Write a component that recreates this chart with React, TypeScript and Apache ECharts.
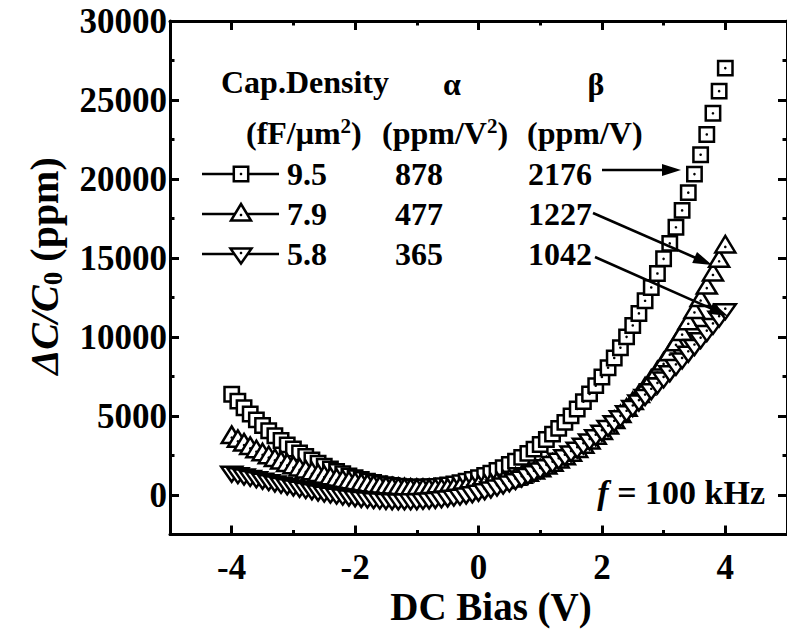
import React, { useEffect, useRef } from 'react';
import * as echarts from 'echarts';

// DC bias (V)
const biasV = [-4, -3.9, -3.8, -3.7, -3.6, -3.5, -3.4, -3.3, -3.2, -3.1, -3, -2.9, -2.8, -2.7, -2.6, -2.5, -2.4, -2.3, -2.2, -2.1, -2, -1.9, -1.8, -1.7, -1.6, -1.5, -1.4, -1.3, -1.2, -1.1, -1, -0.9, -0.8, -0.7, -0.6, -0.5, -0.4, -0.3, -0.2, -0.1, 0, 0.1, 0.2, 0.3, 0.4, 0.5, 0.6, 0.7, 0.8, 0.9, 1, 1.1, 1.2, 1.3, 1.4, 1.5, 1.6, 1.7, 1.8, 1.9, 2, 2.1, 2.2, 2.3, 2.4, 2.5, 2.6, 2.7, 2.8, 2.9, 3, 3.1, 3.2, 3.3, 3.4, 3.5, 3.6, 3.7, 3.8, 3.9, 4];

// ΔC/C0 (ppm), cap density 9.5 fF/um2 (squares)
const density95 = [6380, 5941, 5523, 5128, 4754, 4401, 4067, 3752, 3454, 3175, 2912, 2665, 2434, 2217, 2016, 1829, 1654, 1494, 1346, 1211, 1088, 977, 878, 790, 715, 651, 598, 556, 527, 507, 500, 504, 521, 548, 588, 641, 706, 783, 875, 980, 1100, 1234, 1383, 1549, 1730, 1929, 2146, 2380, 2633, 2906, 3200, 3515, 3853, 4214, 4598, 5009, 5445, 5908, 6400, 6921, 7472, 8055, 8672, 9322, 10008, 10731, 11492, 12293, 13134, 14019, 14948, 15923, 16944, 18014, 19135, 20309, 21536, 22818, 24159, 25559, 27020];

// cap density 7.9 (up triangles)
const density79 = [3639, 3396, 3164, 2947, 2741, 2546, 2362, 2189, 2026, 1872, 1727, 1590, 1463, 1343, 1231, 1125, 1027, 936, 851, 772, 700, 634, 574, 519, 470, 427, 389, 358, 331, 311, 296, 287, 285, 288, 298, 314, 337, 366, 403, 448, 500, 560, 629, 708, 795, 892, 1000, 1118, 1247, 1389, 1542, 1709, 1889, 2084, 2293, 2517, 2758, 3017, 3292, 3586, 3900, 4234, 4589, 4966, 5365, 5789, 6237, 6711, 7211, 7740, 8297, 8884, 9502, 10153, 10836, 11554, 12307, 13097, 13926, 14794, 15703];

// cap density 5.8 (down triangles)
const density58 = [1499, 1413, 1325, 1238, 1149, 1061, 973, 884, 798, 712, 628, 547, 467, 390, 316, 245, 178, 115, 56, 1, -48, -94, -134, -168, -197, -219, -236, -246, -249, -245, -235, -217, -192, -159, -118, -69, -12, 53, 127, 209, 300, 399, 509, 627, 754, 891, 1036, 1191, 1356, 1531, 1715, 1909, 2113, 2326, 2550, 2783, 3027, 3280, 3544, 3816, 4100, 4393, 4696, 5009, 5332, 5665, 6008, 6360, 6723, 7095, 7476, 7866, 8266, 8676, 9095, 9523, 9959, 10404, 10859, 11321, 11793];

const xMajorTicks = [-4, -2, 0, 2, 4];
const xMinorTicks = [-3, -1, 1, 3];
const yMajorTicks = [0, 5000, 10000, 15000, 20000, 25000, 30000];
const yMinorTicks = [2500, 7500, 12500, 17500, 22500, 27500];

const capDensity = ['9.5', '7.9', '5.8'];
const alphaVals = ['878', '477', '365'];
const betaVals = ['2176', '1227', '1042'];

const FONT = "'Liberation Serif', 'Times New Roman', serif";

type Pt = [number, number];

function squareShape(x: number, y: number) {
  return [
    { type: 'rect', shape: { x: x - 7.2, y: y - 7.2, width: 14.4, height: 14.4 }, style: { fill: '#fff', stroke: '#000', lineWidth: 2.5 } },
    { type: 'circle', shape: { cx: x, cy: y, r: 1.3 }, style: { fill: '#000' } },
  ];
}
function upTriShape(x: number, y: number) {
  return [
    { type: 'polygon', shape: { points: [[x, y - 11], [x + 10, y + 5.5], [x - 10, y + 5.5]] }, style: { fill: '#fff', stroke: '#000', lineWidth: 2.5, lineJoin: 'miter' } },
    { type: 'circle', shape: { cx: x, cy: y, r: 1.3 }, style: { fill: '#000' } },
  ];
}
function downTriShape(x: number, y: number) {
  return [
    { type: 'polygon', shape: { points: [[x - 10.5, y - 4.5], [x + 10.5, y - 4.5], [x, y + 10.5]] }, style: { fill: '#fff', stroke: '#000', lineWidth: 2.5, lineJoin: 'miter' } },
    { type: 'circle', shape: { cx: x, cy: y, r: 1.3 }, style: { fill: '#000' } },
  ];
}

function markerSeries(name: string, values: number[], shapeFn: (x: number, y: number) => any[]) {
  const data: Pt[] = biasV.map((v, i) => [v, values[i]]);
  return {
    type: 'custom',
    name,
    data,
    encode: { x: 0, y: 1 },
    clip: false,
    renderItem: (_params: any, api: any) => {
      const p = api.coord([api.value(0), api.value(1)]);
      return { type: 'group', children: shapeFn(p[0], p[1]) };
    },
  };
}

const axisBase = {
  type: 'value',
  splitLine: { show: false },
};

function xAx(position: 'top' | 'bottom', major: boolean) {
  return {
    ...axisBase,
    min: -5,
    max: 5,
    position,
    axisLine: { show: major, onZero: false, lineStyle: { color: '#000', width: 3 } },
    axisTick: {
      show: true,
      inside: true,
      length: major ? 9 : 4.5,
      customValues: major ? xMajorTicks : xMinorTicks,
      lineStyle: { color: '#000', width: 3 },
    },
    axisLabel: {
      show: major && position === 'bottom',
      customValues: xMajorTicks,
      formatter: (v: number) => String(v),
      color: '#000',
      fontFamily: FONT,
      fontWeight: 'bold',
      fontSize: 35,
      margin: 15,
    },
  };
}

function yAx(position: 'left' | 'right', major: boolean) {
  return {
    ...axisBase,
    min: -2500,
    max: 30000,
    position,
    axisLine: { show: major, onZero: false, lineStyle: { color: '#000', width: 3 } },
    axisTick: {
      show: true,
      inside: true,
      length: major ? 9 : 4.5,
      customValues: major ? yMajorTicks : yMinorTicks,
      lineStyle: { color: '#000', width: 3 },
    },
    axisLabel: {
      show: major && position === 'left',
      customValues: yMajorTicks,
      formatter: (v: number) => String(v),
      color: '#000',
      fontFamily: FONT,
      fontWeight: 'bold',
      fontSize: 35,
      margin: 3,
    },
  };
}

const bold = { fontFamily: FONT, fontWeight: 'bold', fill: '#000' };

function txt(text: string, x: number, y: number, extra: any = {}) {
  return {
    type: 'text',
    x,
    y,
    z: 100,
    style: { text, ...bold, fontSize: 32, align: 'left', verticalAlign: 'middle', ...extra },
  };
}

const supRich = {
  b: { fontFamily: FONT, fontWeight: 'bold', fontSize: 32, lineHeight: 36, verticalAlign: 'middle' },
  sup: { fontFamily: FONT, fontWeight: 'bold', fontSize: 21, lineHeight: 22, verticalAlign: 'top' },
};

function arrow(x1: number, y1: number, x2: number, y2: number) {
  const dx = x2 - x1;
  const dy = y2 - y1;
  const len = Math.sqrt(dx * dx + dy * dy);
  const ux = dx / len;
  const uy = dy / len;
  const hl = 19;
  const hw = 6;
  const bx = x2 - ux * hl;
  const by = y2 - uy * hl;
  return [
    { type: 'line', z: 100, shape: { x1, y1, x2: bx + ux * 2, y2: by + uy * 2 }, style: { stroke: '#000', lineWidth: 2.6 } },
    {
      type: 'polygon', z: 100,
      shape: { points: [[x2, y2], [bx - uy * hw, by + ux * hw], [bx + uy * hw, by - ux * hw]] },
      style: { fill: '#000' },
    },
  ];
}

function legendGlyph(kind: number, cy: number) {
  const cx = 241;
  const line = { type: 'line', z: 90, shape: { x1: 202, y1: cy, x2: 279, y2: cy }, style: { stroke: '#000', lineWidth: 2.5 } };
  const shapes = kind === 0 ? squareShape(cx, cy) : kind === 1 ? upTriShape(cx, cy + 1) : downTriShape(cx, cy - 1);
  return [line, ...shapes.map((s) => ({ ...s, z: 95 }))];
}

export default function App() {
  const ref = useRef<HTMLDivElement>(null);

  useEffect(() => {
    if (!ref.current) return;
    const chart = echarts.init(ref.current, undefined, { renderer: 'svg' });
    const rowY = [174, 214, 254];

    const graphics: any[] = [];
    graphics.push(txt('Cap.Density', 221, 82));
    graphics.push(txt('α', 452, 84, { align: 'center' }));
    graphics.push(txt('β', 596, 84, { align: 'center' }));
    graphics.push({
      type: 'text', x: 246, y: 133, z: 100,
      style: { text: '{b|(fF/μm}{sup|2}{b|)}', rich: supRich, align: 'left', verticalAlign: 'middle', ...bold },
    });
    graphics.push({
      type: 'text', x: 382, y: 133, z: 100,
      style: { text: '{b|(ppm/V}{sup|2}{b|)}', rich: supRich, align: 'left', verticalAlign: 'middle', ...bold },
    });
    graphics.push(txt('(ppm/V)', 527, 133));
    capDensity.forEach((c, i) => {
      graphics.push(...legendGlyph(i, rowY[i]));
      graphics.push(txt(c, 287, rowY[i]));
      graphics.push(txt(alphaVals[i], 395, rowY[i]));
      graphics.push(txt(betaVals[i], 528, rowY[i]));
    });
    graphics.push(...arrow(602, 170, 681, 170));
    graphics.push(...arrow(593, 213, 712, 265));
    graphics.push(...arrow(595, 257, 728, 316));

    graphics.push({
      type: 'text', x: 765, y: 492, z: 100,
      style: {
        text: '{i|f}{b| = 100 kHz}',
        align: 'right', verticalAlign: 'middle',
        rich: {
          i: { fontFamily: FONT, fontWeight: 'bold', fontStyle: 'italic', fontSize: 34 },
          b: { fontFamily: FONT, fontWeight: 'bold', fontSize: 34 },
        },
        ...bold,
      },
    });

    graphics.push({
      type: 'text', x: 491, y: 606, z: 100,
      style: { text: 'DC Bias (V)', ...bold, fontSize: 39, align: 'center', verticalAlign: 'middle' },
    });

    graphics.push({
      type: 'text', x: 44, y: 266, z: 100, rotation: Math.PI / 2,
      style: {
        text: '{i|ΔC/C}{s|0}{n| (ppm)}',
        align: 'center', verticalAlign: 'middle',
        ...bold,
        rich: {
          i: { fontFamily: FONT, fontWeight: 'bold', fontStyle: 'italic', fontSize: 40, lineHeight: 44, verticalAlign: 'middle' },
          s: { fontFamily: FONT, fontWeight: 'bold', fontSize: 27, lineHeight: 25, verticalAlign: 'bottom' },
          n: { fontFamily: FONT, fontWeight: 'bold', fontSize: 40, lineHeight: 44, verticalAlign: 'middle' },
        },
      },
    });

    const option: any = {
      animation: false,
      backgroundColor: '#fff',
      textStyle: { fontFamily: FONT },
      grid: { left: 170, top: 21, width: 624, height: 513.5, containLabel: false },
      xAxis: [xAx('bottom', true), xAx('bottom', false), xAx('top', true), xAx('top', false)],
      yAxis: [yAx('left', true), yAx('left', false), yAx('right', true), yAx('right', false)],
      series: [
        markerSeries('9.5', density95, squareShape),
        markerSeries('7.9', density79, upTriShape),
        markerSeries('5.8', density58, downTriShape),
      ],
      graphic: graphics,
    };
    chart.setOption(option);
    return () => chart.dispose();
  }, []);

  return <div ref={ref} style={{ position: 'absolute', left: 0, top: 0, width: 787, height: 636, background: '#fff' }} />;
}
